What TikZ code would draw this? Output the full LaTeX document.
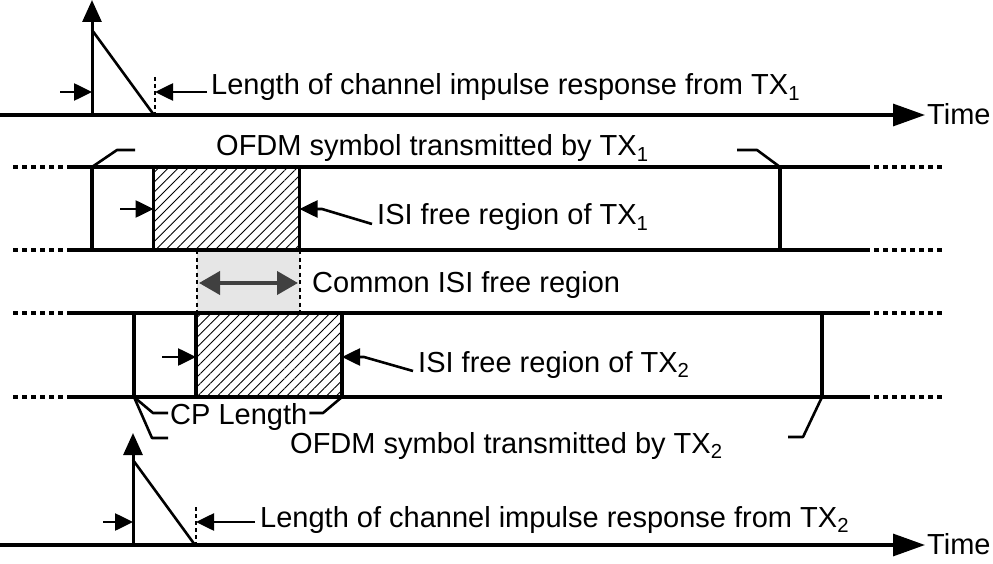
\documentclass[tikz,border=0pt]{standalone}
\usepackage{fontspec}
\setmainfont{Liberation Sans}
\usetikzlibrary{arrows.meta,patterns.meta}
\definecolor{regiongray}{HTML}{E6E6E6}
\definecolor{darkarrow}{HTML}{404040}

\begin{document}
\begin{tikzpicture}[x=1pt,y=-1pt,
  lbl/.style={font=\fontsize{29}{34}\selectfont, inner sep=0pt, anchor=base west},
  rail/.style={line width=3.2pt},
  railext/.style={line width=3.2pt, dash pattern=on 5pt off 4pt},
  edge/.style={line width=3.2pt},
  bracket/.style={line width=2.6pt, line join=round},
  slope/.style={line width=2.6pt},
  tapdash/.style={line width=2.2pt, dash pattern=on 4pt off 3pt},
  sarrow/.style={line width=2.6pt, -{Triangle[length=18pt,width=17pt]}},
  axisarrow/.style={line width=3.2pt, -{Triangle[length=32pt,width=22pt]}},
  tap/.style={line width=3pt, -{Triangle[length=22pt,width=19pt]}},
  hatchbox/.style={draw, line width=3.2pt, inner sep=0pt, outer sep=0pt,
    pattern={Lines[angle=45,distance=7pt,line width=0.9pt]}},
  common/.style={line width=2.4pt, dash pattern=on 4pt off 3.5pt},
  both/.style={line width=4pt, darkarrow,
    {Triangle[length=21pt,width=23pt]}-{Triangle[length=21pt,width=23pt]}}
]
\useasboundingbox (0,0) rectangle (993,564);

% ---------- common ISI free region (shaded band) ----------
\fill[regiongray] (197,250) rectangle (300,313);
\draw[common] (197,250) -- (197,313);
\draw[common] (300,250) -- (300,313);
\coordinate (ca) at (199,283);
\coordinate (cb) at (298,283);
\draw[both] (ca) -- (cb);
\node[lbl] (common) at (312,292) {Common ISI free region};

% ---------- channel impulse response of TX1 ----------
\node[lbl, anchor=west] (time1) at (927,114) {Time};
\coordinate (ax1) at (0,115);
\draw[axisarrow] (ax1) -- ([xshift=-2pt]time1.west |- ax1);
\coordinate (o1) at (92,116);
\coordinate (p1) at (92,0);
\draw[tap] (o1) -- (p1);
\coordinate (t1) at (92,30);
\coordinate (e1) at (154,115);
\draw[slope] (t1) -- (e1);
\coordinate (d1) at (155,92);
\draw[tapdash] (155,77) -- (e1 -| d1);
\coordinate (l1) at (60,92);
\draw[sarrow] (l1) -- (o1 |- l1);
\node[lbl] (len1) at (211,95) {Length of channel impulse response from TX\textsubscript{1}};
\draw[sarrow] ([xshift=-4pt]len1.west |- d1) -- (d1);

% ---------- OFDM symbol of TX1 ----------
\draw[railext] (13,167) -- (67,167);
\draw[rail] (67,167) -- (865,167);
\draw[railext] (865,167) -- (943,167);
\draw[railext] (13,250) -- (67,250);
\draw[rail] (67,250) -- (865,250);
\draw[railext] (865,250) -- (943,250);
\coordinate (s1a) at (92,167);
\coordinate (s1b) at (780,167);
\draw[edge] (s1a) -- (92,250);
\draw[edge] (s1b) -- (780,250);
\node[hatchbox, minimum width=146pt, minimum height=83pt] (h1) at (226.5,208.5) {};
\node[lbl] (ofdm1) at (216,156) {OFDM symbol transmitted by TX\textsubscript{1}};
\draw[bracket] (s1a) -- (117,150) -- (135,150);
\draw[bracket] (737,150) -- (757,150) -- (s1b);
\coordinate (g1) at (120,209);
\draw[sarrow] (g1) -- (h1.west |- g1);
\node[lbl] (isi1) at (377,225) {ISI free region of TX\textsubscript{1}};
\coordinate (k1) at (322,209);
\draw[sarrow] ([xshift=-5pt,yshift=1pt]isi1.base west) -- (k1) -- (h1.east |- k1);

% ---------- OFDM symbol of TX2 ----------
\draw[railext] (13,313) -- (67,313);
\draw[rail] (67,313) -- (865,313);
\draw[railext] (865,313) -- (943,313);
\draw[railext] (13,397) -- (67,397);
\draw[rail] (67,397) -- (865,397);
\draw[railext] (865,397) -- (943,397);
\coordinate (s2a) at (134,397);
\coordinate (s2b) at (822,397);
\draw[edge] (134,313) -- (s2a);
\draw[edge] (822,313) -- (s2b);
\node[hatchbox, minimum width=146pt, minimum height=84pt] (h2) at (269,355) {};
\coordinate (g2) at (162,357);
\draw[sarrow] (g2) -- (h2.west |- g2);
\node[lbl] (isi2) at (418,372) {ISI free region of TX\textsubscript{2}};
\coordinate (k2) at (364,357);
\draw[sarrow] ([xshift=-5pt,yshift=1pt]isi2.base west) -- (k2) -- (h2.east |- k2);
\node[lbl] (cp) at (170,424) {CP Length};
\draw[bracket] (s2a) -- (153,413) -- ([xshift=-2pt]cp.west |- 0,413);
\draw[bracket] ([xshift=2pt]cp.east |- 0,413) -- (323,413) -- (h2.south east);
\node[lbl] (ofdm2) at (290,453) {OFDM symbol transmitted by TX\textsubscript{2}};
\draw[bracket] (s2a) -- (152,438) -- (168,438);
\draw[bracket] (s2b) -- (803,437) -- (788,437);

% ---------- channel impulse response of TX2 ----------
\node[lbl, anchor=west] (time2) at (927,544) {Time};
\coordinate (ax2) at (0,545);
\draw[axisarrow] (ax2) -- ([xshift=-2pt]time2.west |- ax2);
\coordinate (o2) at (133,546);
\coordinate (p2) at (133,433);
\draw[tap] (o2) -- (p2);
\coordinate (t2) at (133,460);
\coordinate (e2) at (195,545);
\draw[slope] (t2) -- (e2);
\coordinate (d2) at (196,522);
\draw[tapdash] (196,507) -- (e2 -| d2);
\coordinate (l2) at (103,522);
\draw[sarrow] (l2) -- (o2 |- l2);
\node[lbl] (len2) at (260,527) {Length of channel impulse response from TX\textsubscript{2}};
\draw[sarrow] ([xshift=-5pt]len2.west |- d2) -- (d2);
\end{tikzpicture}
\end{document}
